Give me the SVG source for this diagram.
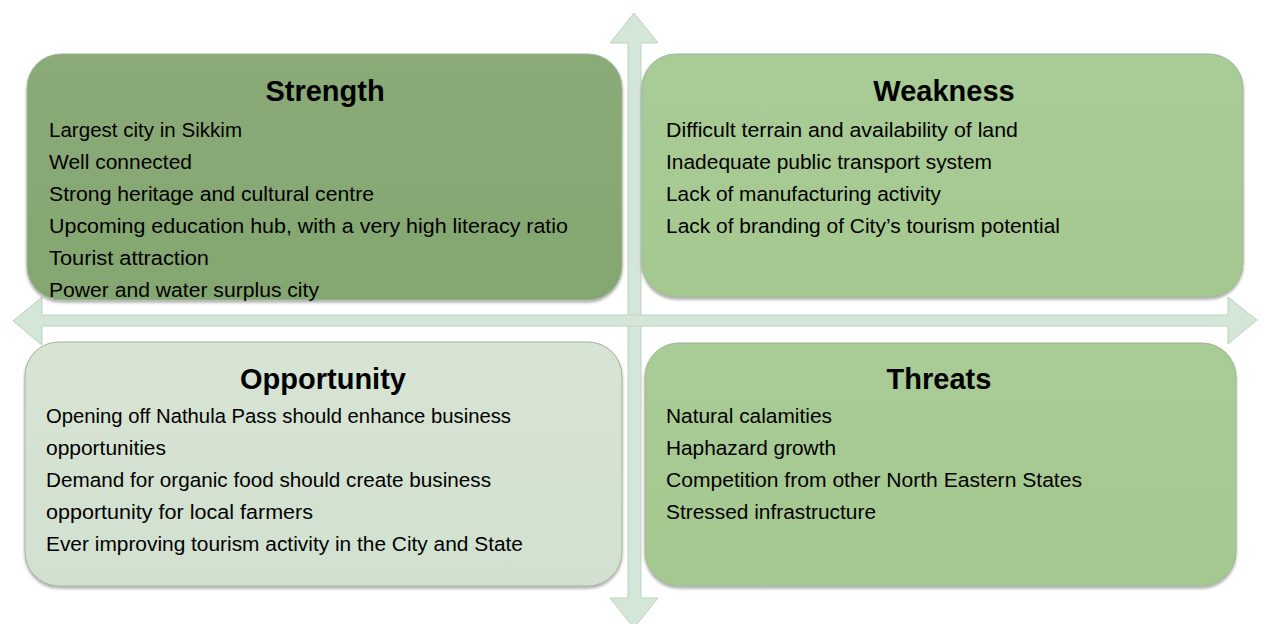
<svg xmlns="http://www.w3.org/2000/svg" width="1262" height="624" viewBox="0 0 1262 624">
  <style>
    .title { font-family: "Liberation Sans", Arial, sans-serif; font-weight: bold; font-size: 29px; fill: #000; text-anchor: middle; }
    .item { font-family: "Liberation Sans", Arial, sans-serif; font-size: 20.5px; fill: #000; }
    .axis { fill: #d4e6d7; stroke: #bcd2bf; stroke-width: 1; }
    .box { stroke: #9fb59a; stroke-width: 1; filter: url(#soft); }
  </style>
  <defs>
    <filter id="soft" x="-5%" y="-5%" width="110%" height="115%">
      <feGaussianBlur in="SourceAlpha" stdDeviation="1.5"/>
      <feOffset dx="0" dy="2" result="off"/>
      <feComponentTransfer><feFuncA type="linear" slope="0.35"/></feComponentTransfer>
      <feMerge><feMergeNode/><feMergeNode in="SourceGraphic"/></feMerge>
    </filter>
    <linearGradient id="gStrength" x1="0" y1="0" x2="0" y2="1">
      <stop offset="0" stop-color="#8aab77"/>
      <stop offset="1" stop-color="#84a671"/>
    </linearGradient>
    <linearGradient id="gWeak" x1="0" y1="0" x2="0" y2="1">
      <stop offset="0" stop-color="#a9cb95"/>
      <stop offset="1" stop-color="#a5c891"/>
    </linearGradient>
    <linearGradient id="gOpp" x1="0" y1="0" x2="0" y2="1">
      <stop offset="0" stop-color="#d7e4d4"/>
      <stop offset="1" stop-color="#d2e0cf"/>
    </linearGradient>
  </defs>

  <rect width="1262" height="624" fill="#ffffff"/>

  <!-- quadrant axes: two double-headed arrows crossing behind the boxes -->
  <g id="connectors">
    <path class="axis" d="M634,13 L658,43 L641,43 L641,598 L658,598 L634,628 L610,598 L628,598 L628,43 L610,43 Z"/>
    <path class="axis" d="M13,321 L42,297 L42,315 L1228,315 L1228,297 L1257,320 L1228,344 L1228,326 L42,326 L42,345 Z"/>
    <rect x="628.5" y="315.5" width="12" height="10" fill="#d4e6d7"/>
  </g>

  <g id="strength">
    <rect class="box" x="27" y="54" width="595" height="246" rx="34" fill="url(#gStrength)"/>
    <text class="title" x="325" y="101">Strength</text>
    <text class="item" x="49" y="137" textLength="193" lengthAdjust="spacingAndGlyphs">Largest city in Sikkim</text>
    <text class="item" x="49" y="169" textLength="143" lengthAdjust="spacingAndGlyphs">Well connected</text>
    <text class="item" x="49" y="201" textLength="325" lengthAdjust="spacingAndGlyphs">Strong heritage and cultural centre</text>
    <text class="item" x="49" y="233" textLength="519" lengthAdjust="spacingAndGlyphs">Upcoming education hub, with a very high literacy ratio</text>
    <text class="item" x="49" y="265" textLength="160" lengthAdjust="spacingAndGlyphs">Tourist attraction</text>
    <text class="item" x="49" y="297" textLength="270" lengthAdjust="spacingAndGlyphs">Power and water surplus city</text>
  </g>

  <g id="weakness">
    <rect class="box" x="642" y="54" width="601" height="243" rx="34" fill="url(#gWeak)"/>
    <text class="title" x="944" y="101">Weakness</text>
    <text class="item" x="666" y="137" textLength="352" lengthAdjust="spacingAndGlyphs">Difficult terrain and availability of land</text>
    <text class="item" x="666" y="169" textLength="326" lengthAdjust="spacingAndGlyphs">Inadequate public transport system</text>
    <text class="item" x="666" y="201" textLength="275" lengthAdjust="spacingAndGlyphs">Lack of manufacturing activity</text>
    <text class="item" x="666" y="233" textLength="394" lengthAdjust="spacingAndGlyphs">Lack of branding of City’s tourism potential</text>
  </g>

  <g id="opportunity">
    <rect class="box" x="25" y="342" width="597" height="244" rx="34" fill="url(#gOpp)"/>
    <text class="title" x="323" y="389">Opportunity</text>
    <text class="item" x="46" y="423" textLength="465" lengthAdjust="spacingAndGlyphs">Opening off Nathula Pass should enhance business</text>
    <text class="item" x="46" y="455" textLength="120" lengthAdjust="spacingAndGlyphs">opportunities</text>
    <text class="item" x="46" y="487" textLength="445" lengthAdjust="spacingAndGlyphs">Demand for organic food should create business</text>
    <text class="item" x="46" y="519" textLength="267" lengthAdjust="spacingAndGlyphs">opportunity for local farmers</text>
    <text class="item" x="46" y="551" textLength="477" lengthAdjust="spacingAndGlyphs">Ever improving tourism activity in the City and State</text>
  </g>

  <g id="threats">
    <rect class="box" x="645" y="343" width="591" height="243" rx="34" fill="url(#gWeak)"/>
    <text class="title" x="939" y="389">Threats</text>
    <text class="item" x="666" y="423" textLength="166" lengthAdjust="spacingAndGlyphs">Natural calamities</text>
    <text class="item" x="666" y="455" textLength="170" lengthAdjust="spacingAndGlyphs">Haphazard growth</text>
    <text class="item" x="666" y="487" textLength="416" lengthAdjust="spacingAndGlyphs">Competition from other North Eastern States</text>
    <text class="item" x="666" y="519" textLength="210" lengthAdjust="spacingAndGlyphs">Stressed infrastructure</text>
  </g>
</svg>
